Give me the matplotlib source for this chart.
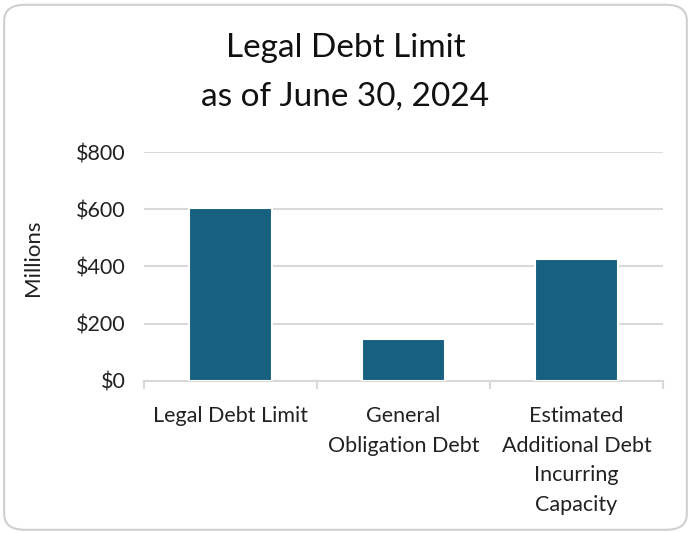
import matplotlib
matplotlib.use('Agg')
import matplotlib.pyplot as plt
from matplotlib.patches import FancyBboxPatch
from matplotlib.ticker import FuncFormatter

plt.rcParams['font.family'] = ['Lato', 'DejaVu Sans']

categories = ['Legal Debt Limit', 'General\nObligation Debt',
              'Estimated\nAdditional Debt\nIncurring\nCapacity']
values = [603, 146, 425]
y_ticks = [0, 200, 400, 600, 800]

fig = plt.figure(figsize=(6.91, 5.33), dpi=100)
ax = fig.add_axes([0.2084, 0.2852, 0.7511, 0.4296])

# rounded frame around the whole chart
frame = FancyBboxPatch((0.006, 0.006), 0.988, 0.985,
                       boxstyle='round,pad=0,rounding_size=0.03',
                       transform=fig.transFigure, facecolor='white',
                       edgecolor='#d0d0d0', linewidth=1.5, zorder=-10)
fig.patches.append(frame)

x = range(len(categories))
ax.bar(x, values, width=0.475, color='#17607f', edgecolor='white',
       linewidth=1.5, zorder=3)

ax.set_xlim(-0.5, 2.5)
ax.set_ylim(0, 800)
ax.set_yticks(y_ticks)
ax.yaxis.set_major_formatter(FuncFormatter(lambda v, p: f'${v:,.0f}'))
ax.grid(axis='y', color='#d9d9d9', linewidth=1.5, zorder=0)
ax.set_axisbelow(True)

for s in ['top', 'right', 'left']:
    ax.spines[s].set_visible(False)
ax.spines['bottom'].set_color('#d9d9d9')
ax.spines['bottom'].set_linewidth(1.5)

ax.set_xticks([-0.5, 0.5, 1.5, 2.5], minor=False)
ax.set_xticklabels([])
ax.tick_params(axis='x', which='major', length=6, color='#d9d9d9', width=1.5)
ax.set_xticks(list(x), minor=True)
ax.set_xticklabels(categories, minor=True, fontsize=15.5, color='#222222',
                   va='top', linespacing=1.6)
ax.tick_params(axis='x', which='minor', length=0, pad=18)
ax.tick_params(axis='y', length=0, labelsize=15.5, labelcolor='#222222', pad=13)

ax.set_ylabel('Millions', fontsize=16, color='#222222')
ax.yaxis.set_label_coords(-0.195, 0.537)

fig.text(0.5, 0.91, 'Legal Debt Limit', ha='center', va='center',
         fontsize=24, color='#111111')
fig.text(0.5, 0.818, 'as of June 30, 2024', ha='center', va='center',
         fontsize=24, color='#111111')

fig.savefig('out.png', dpi=100)
